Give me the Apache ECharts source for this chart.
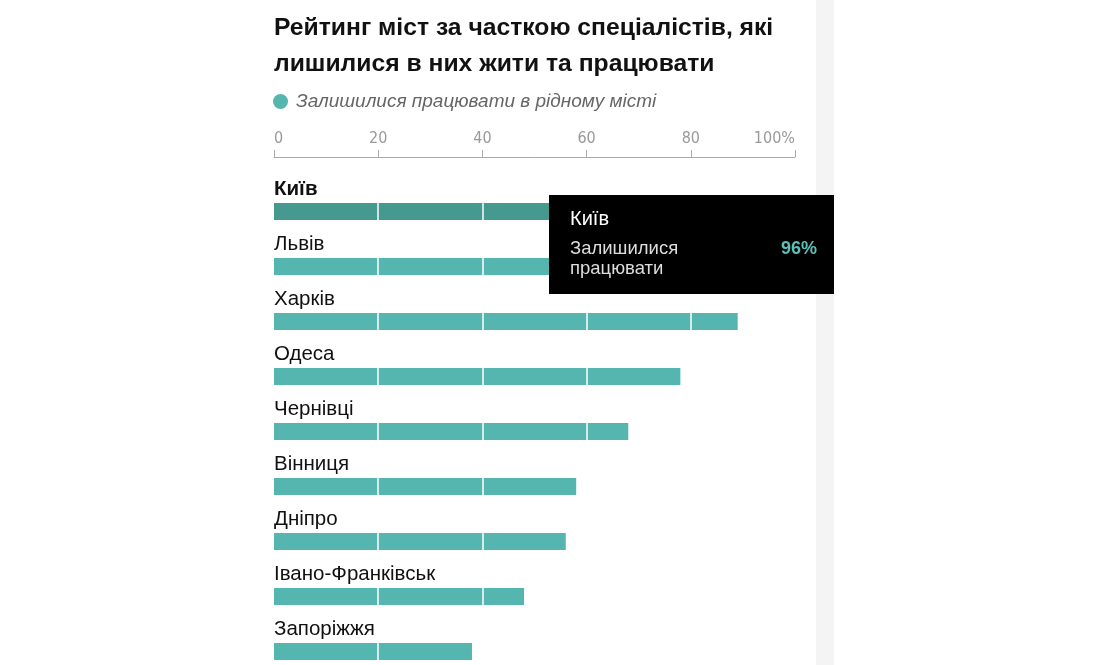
<!DOCTYPE html>
<html><head><meta charset="utf-8">
<script src="https://cdn.jsdelivr.net/npm/echarts@6/dist/echarts.min.js"></script>
<style>html,body{margin:0;padding:0;background:#fff}#c{width:1100px;height:665px}</style>
</head><body><div id="c"></div>
<script>
const cities = ['Київ','Львів','Харків','Одеса','Чернівці','Вінниця','Дніпро','Івано-Франківськ','Запоріжжя'];
const values = [96, 92, 89, 78, 68, 58, 56, 48, 38];
const seriesName = 'Залишилися працювати в рідному місті';
const tooltipLabel = 'Залишилися працювати';
const axisMax = 100;
const axisStep = 20;

const teal = '#54b6af';
const tealDark = '#46998f';
const font = '"Liberation Sans", Arial, sans-serif';

const chart = echarts.init(document.getElementById('c'), null, {renderer:'canvas'});
const barData = values.map((v, i) => i === 0 ? {value: v, itemStyle: {color: tealDark}} : v);
const labelData = values.map((v, i) => i === 0 ? {value: v, label: {fontWeight: 'bold'}} : v);

chart.setOption({
  animation: false,
  backgroundColor: '#fff',
  textStyle: {fontFamily: font},
  graphic: [{type:'rect', z: -10, silent: true, shape:{x:816, y:0, width:18, height:665}, style:{fill:'#f4f4f4'}}],
  title: {
    text: 'Рейтинг міст за часткою спеціалістів, які\nлишилися в них жити та працювати',
    left: 274, top: 10, padding: 0,
    textStyle: {fontFamily: font, fontSize: 24.7, fontWeight: 'bold', lineHeight: 36, color: '#111'}
  },
  legend: {
    left: 273, top: 92, padding: 0,
    icon: 'circle', itemWidth: 15, itemHeight: 15,
    data: [seriesName],
    textStyle: {fontFamily: font, fontSize: 19, fontStyle: 'italic', color: '#666', padding: [0,0,0,3]}
  },
  tooltip: {
    trigger: 'item',
    triggerOn: 'none',
    alwaysShowContent: true,
    backgroundColor: '#000',
    borderWidth: 0,
    padding: 0,
    position: function(){ return [549, 195]; },
    extraCssText: 'border-radius:0;box-shadow:none;width:285px;height:99px;box-sizing:border-box;padding:10px 17px 0 21px;',
    formatter: function(p){
      return '<div style="font-family:\'Liberation Sans\',Arial,sans-serif;">' +
        '<div style="font-size:20px;color:#fff;line-height:26px;margin-bottom:7px;">' + p.name + '</div>' +
        '<div style="display:flex;justify-content:space-between;align-items:flex-start;">' +
        '<span style="color:#ddd;font-size:18.5px;line-height:20px;width:140px;white-space:normal;">' + tooltipLabel + '</span>' +
        '<span style="color:#5cc0b8;font-weight:bold;font-size:18px;line-height:20px;">' + p.value + '%</span>' +
        '</div></div>';
    }
  },
  grid: {left: 274, width: 521, top: 184, height: cities.length * 55, containLabel: false, outerBoundsMode: 'none'},
  xAxis: {
    type: 'value', position: 'top', offset: 27, z: 10,
    min: 0, max: axisMax, interval: axisStep,
    axisLine: {show: true, lineStyle: {color: '#aaa', width: 1}},
    axisTick: {show: true, length: 7, lineStyle: {color: '#aaa'}},
    axisLabel: {
      margin: 10, color: '#999', fontSize: 16,
      fontFamily: '"DejaVu Sans Condensed", "Liberation Sans Narrow", sans-serif',
      fontWeight: 'lighter',
      alignMinLabel: 'left', alignMaxLabel: 'right',
      formatter: v => v === axisMax ? v + '%' : String(v)
    },
    splitLine: {show: true, showMinLine: false, showMaxLine: false, lineStyle: {color: '#ffffff', width: 1.5}}
  },
  yAxis: {
    type: 'category', data: cities, inverse: true,
    axisLine: {show: false}, axisTick: {show: false}, axisLabel: {show: false}, splitLine: {show: false}
  },
  series: [{
    name: seriesName,
    type: 'bar',
    data: barData,
    barWidth: 17,
    z: 2,
    itemStyle: {color: teal}
  }, {
    name: 'labels',
    type: 'bar',
    data: labelData,
    barWidth: 17,
    barGap: '-100%',
    z: 20,
    silent: true,
    tooltip: {show: false},
    itemStyle: {color: 'rgba(0,0,0,0)'},
    label: {
      show: true, position: [0, -14], verticalAlign: 'middle', align: 'left',
      formatter: '{b}', fontSize: 20.5, color: '#111', fontFamily: font
    }
  }]
});
chart.dispatchAction({type: 'showTip', seriesIndex: 0, dataIndex: 0});
</script></body></html>
